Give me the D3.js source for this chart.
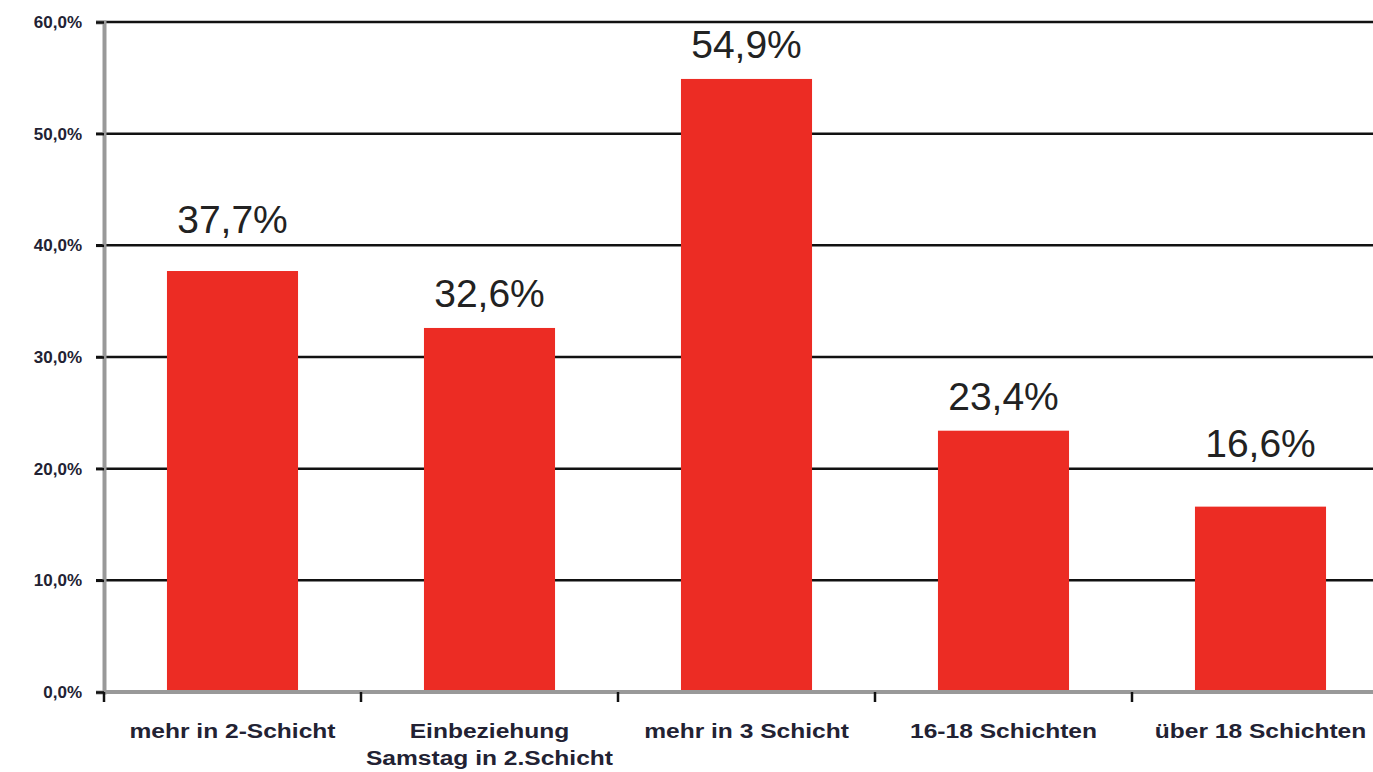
<!DOCTYPE html>
<html>
<head>
<meta charset="utf-8">
<script src="https://cdn.jsdelivr.net/npm/d3@7"></script>
<style>
  body { margin: 0; background: #fff; }
  svg { display: block; }
</style>
</head>
<body>
<svg id="chart"></svg>
<script>
var categories = [
  ["mehr in 2-Schicht"],
  ["Einbeziehung", "Samstag in 2.Schicht"],
  ["mehr in 3 Schicht"],
  ["16-18 Schichten"],
  ["über 18 Schichten"]
];
var values = [37.7, 32.6, 54.9, 23.4, 16.6];
var yTicks = [0, 10, 20, 30, 40, 50, 60];

var W = 1373, H = 772;
var margin = { top: 22, left: 104, bottom: 80 };
var plotRight = 1389;

var svg = d3.select("#chart").attr("width", W).attr("height", H);

var fmt = function (v) { return d3.format(".1f")(v).replace(".", ","); };

var x = d3.scaleBand()
  .domain(d3.range(values.length))
  .range([margin.left, plotRight])
  .paddingInner(0.49)
  .paddingOuter(0.245);

var y = d3.scaleLinear().domain([0, 60]).range([H - margin.bottom, margin.top]);

// gridlines
svg.append("g")
  .selectAll("line")
  .data(yTicks.filter(function (d) { return d > 0; }))
  .enter().append("line")
  .attr("x1", margin.left - 8)
  .attr("x2", W)
  .attr("y1", function (d) { return y(d); })
  .attr("y2", function (d) { return y(d); })
  .attr("stroke", "#111")
  .attr("stroke-width", 2.5);

// bars
svg.append("g")
  .selectAll("rect")
  .data(values)
  .enter().append("rect")
  .attr("x", function (d, i) { return x(i); })
  .attr("y", function (d) { return y(d); })
  .attr("width", x.bandwidth())
  .attr("height", function (d) { return y(0) - y(d); })
  .attr("fill", "#ec2c24");

// value labels: sit above the bar, pushed above a gridline if they would cross it
function labelY(v) {
  var base = y(v) - 21;
  yTicks.forEach(function (t) {
    var gy = y(t);
    if (gy > base - 30 && gy < base + 8) base = gy - 12;
  });
  return base;
}

svg.append("g")
  .selectAll("text")
  .data(values)
  .enter().append("text")
  .attr("x", function (d, i) { return x(i) + x.bandwidth() / 2; })
  .attr("y", labelY)
  .attr("text-anchor", "middle")
  .attr("font-family", "Liberation Sans, Arial, sans-serif")
  .attr("font-size", 39)
  .attr("fill", "#222")
  .text(function (d) { return fmt(d) + "%"; });

// y axis
var yAxis = d3.axisLeft(y).tickValues(yTicks).tickSize(8).tickFormat(function (d) { return fmt(d) + "%"; });
var gy = svg.append("g")
  .attr("transform", "translate(" + margin.left + ",0)")
  .call(yAxis);
gy.select(".domain").attr("stroke", "#999").attr("stroke-width", 4);
gy.selectAll(".tick line").attr("stroke", "#111").attr("stroke-width", 2.5);
gy.selectAll(".tick text")
  .attr("x", -22)
  .attr("font-family", "Liberation Sans Narrow, Liberation Sans, Arial, sans-serif")
  .attr("font-weight", "bold")
  .attr("font-size", 17)
  .attr("fill", "#223");

// x axis
var xLine = svg.append("g");
xLine.append("line")
  .attr("x1", margin.left).attr("x2", W)
  .attr("y1", y(0)).attr("y2", y(0))
  .attr("stroke", "#999").attr("stroke-width", 4);
xLine.selectAll(".xtick")
  .data(d3.range(values.length))
  .enter().append("line")
  .attr("class", "xtick")
  .attr("x1", function (i) { return x(i) - x.step() * 0.245; })
  .attr("x2", function (i) { return x(i) - x.step() * 0.245; })
  .attr("y1", y(0)).attr("y2", y(0) + 10)
  .attr("stroke", "#111").attr("stroke-width", 2.5);

// category labels (source text is stretched wide)
var cat = svg.append("g")
  .selectAll("g")
  .data(categories)
  .enter().append("g")
  .attr("transform", function (d, i) {
    return "translate(" + (x(i) + x.bandwidth() / 2) + "," + (y(0) + 46) + ") scale(1.17,1)";
  })
  .append("text")
  .attr("text-anchor", "middle")
  .attr("font-family", "Liberation Sans, Arial, sans-serif")
  .attr("font-weight", "bold")
  .attr("font-size", 21)
  .attr("fill", "#223");
cat.selectAll("tspan")
  .data(function (d) { return d; })
  .enter().append("tspan")
  .attr("x", 0)
  .attr("dy", function (d, i) { return i === 0 ? 0 : 27; })
  .text(function (d) { return d; });
</script>
</body>
</html>
